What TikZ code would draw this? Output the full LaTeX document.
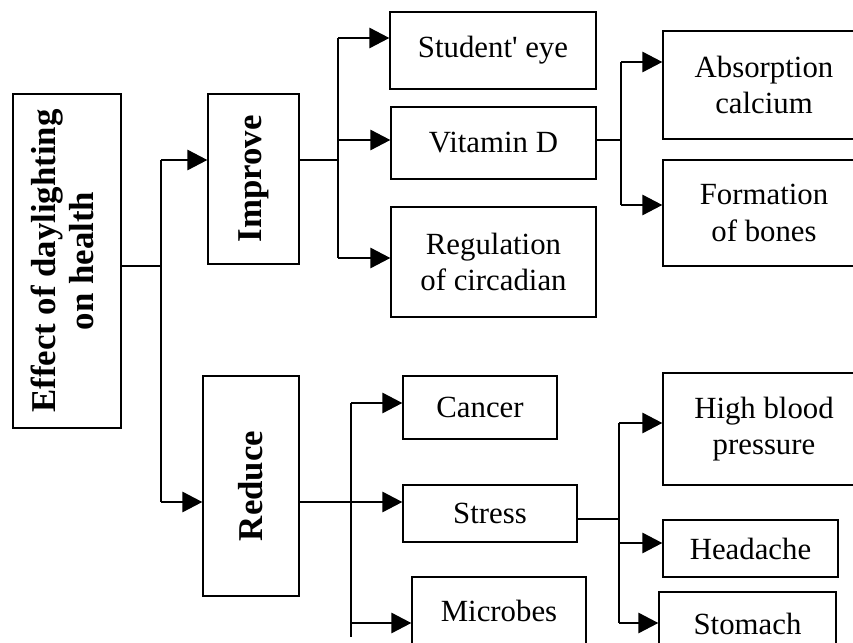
\documentclass[tikz,border=0pt]{standalone}
\usepackage{fontspec}
\setmainfont{Liberation Serif}
\usetikzlibrary{arrows.meta}

\begin{document}
\begin{tikzpicture}[
        x=0.5pt, y=-0.5pt,
        box/.style={
            rectangle,
            draw=black,
            line width=0.6pt,
            inner sep=0pt,
            align=center,
            font=\fontsize{15.4}{18.4}\selectfont
        },
        bigbox/.style={
            box,
            font=\fontsize{17.4}{19}\selectfont\bfseries
        },
        sz/.style 2 args={minimum width=#1*0.5pt, minimum height=#2*0.5pt},
        link/.style={line width=0.7pt, draw=black},
        branch/.style={-{Triangle[length=10pt, width=10pt]}, line width=1.4pt, draw=black}
    ]

    \clip (0,0) rectangle (853,643);

    \node (main) [bigbox, sz={108}{334}] at (67,261) {\rotatebox{90}{\begin{tabular}{@{}c@{}}Effect of daylighting\\on health\end{tabular}}};
    \node (improve) [bigbox, sz={91}{170}] at (253.5,179) {\rotatebox{90}{Improve}};
    \node (reduce) [bigbox, sz={96}{220}] at (251,486) {\rotatebox{90}{Reduce}};

    \node (eye) [box, sz={206}{77}] at (493,50.5) {Student\textquotesingle{} eye};
    \node (vitd) [box, sz={205}{72}] at (493.5,143) {Vitamin D};
    \node (circ) [box, sz={205}{110}] at (493.5,262) {Regulation\\of circadian};
    \node (calc) [box, sz={202}{108}] at (764,85) {Absorption\\calcium};
    \node (bones) [box, sz={202}{106}] at (764,213) {Formation\\of bones};

    \node (cancer) [box, sz={154}{63}] at (480,407.5) {Cancer};
    \node (stress) [box, sz={174}{57}] at (490,513.5) {Stress};
    \node (microbes) [box, sz={174}{68}] at (499,611) {Microbes};
    \node (bp) [box, sz={202}{112}] at (764,429) {High blood\\pressure};
    \node (headache) [box, sz={175}{57}] at (750.5,548.5) {Headache};
    \node (stomach) [box, sz={177}{64}] at (747.5,624) {Stomach};

    % root split
    \coordinate (a0) at (161,266);
    \coordinate (a1) at (161,160);
    \coordinate (a2) at (161,502);
    \draw [link] (a0 -| main.east) -- (a0);
    \draw [link] (a1) -- (a2);
    \draw [branch] (a1) -- (a1 -| improve.west);
    \draw [branch] (a2) -- (a2 -| reduce.west);

    % improve
    \coordinate (b0) at (338,160);
    \coordinate (b1) at (338,38);
    \coordinate (b2) at (338,140);
    \coordinate (b3) at (338,258);
    \draw [link] (b0 -| improve.east) -- (b0);
    \draw [link] (b1) -- (b3);
    \foreach \j/\n in {b1/eye, b2/vitd, b3/circ}
        \draw [branch] (\j) -- (\j -| \n.west);

    % vitamin D
    \coordinate (c0) at (621,140);
    \coordinate (c1) at (621,62);
    \coordinate (c2) at (621,205);
    \draw [link] (c0 -| vitd.east) -- (c0);
    \draw [link] (c1) -- (c2);
    \foreach \j/\n in {c1/calc, c2/bones}
        \draw [branch] (\j) -- (\j -| \n.west);

    % reduce
    \coordinate (d0) at (351,502);
    \coordinate (d1) at (351,403);
    \coordinate (d2) at (351,502);
    \coordinate (d3) at (351,623);
    \coordinate (d4) at (351,637);
    \draw [link] (d0 -| reduce.east) -- (d0);
    \draw [link] (d1) -- (d4);
    \foreach \j/\n in {d1/cancer, d2/stress, d3/microbes}
        \draw [branch] (\j) -- (\j -| \n.west);

    % stress
    \coordinate (e0) at (619,519);
    \coordinate (e1) at (619,423);
    \coordinate (e2) at (619,543);
    \coordinate (e3) at (619,623);
    \draw [link] (e0 -| stress.east) -- (e0);
    \draw [link] (e1) -- (e3);
    \foreach \j/\n in {e1/bp, e2/headache, e3/stomach}
        \draw [branch] (\j) -- (\j -| \n.west);

\end{tikzpicture}
\end{document}
